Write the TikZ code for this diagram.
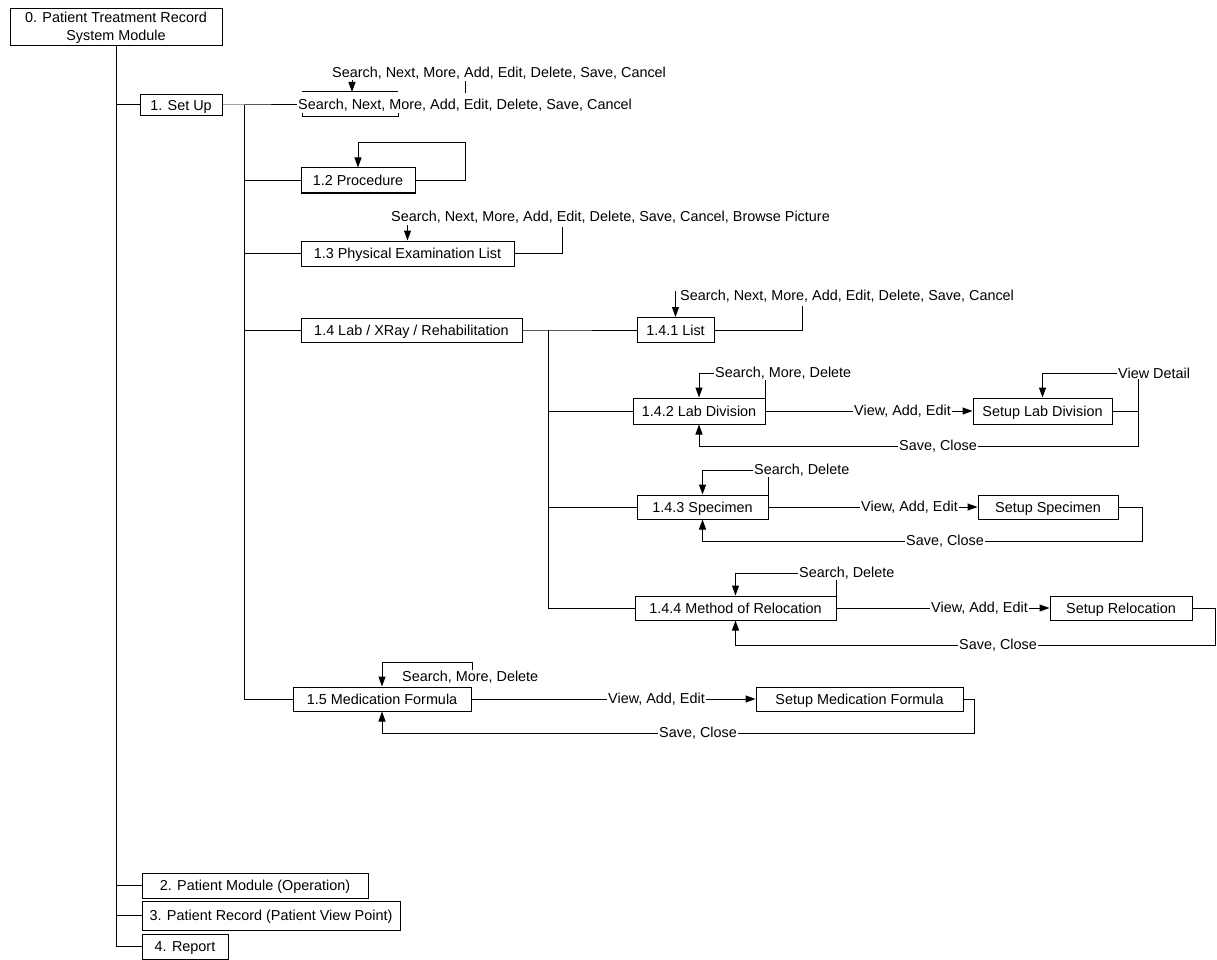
\documentclass[tikz,border=0pt]{standalone}
\usepackage{fontspec}
\setmainfont{Liberation Sans}
\usetikzlibrary{arrows.meta}
\tikzset{
  box/.style={draw,line width=1pt,inner sep=0pt,minimum height=24pt,
    font=\fontsize{14.4}{18}\selectfont},
  mod/.style={box,text height=10.3pt,text depth=0pt},
  lbl/.style={inner sep=1pt,anchor=west,font=\fontsize{14.4}{18}\selectfont},
  ln/.style={line width=1pt},
  arr/.style={ln,-{Triangle[length=10pt,width=7pt]}},
}
\begin{document}
\begin{tikzpicture}[x=1pt,y=-1pt]
  \useasboundingbox (0,0) rectangle (1217,960);
  % ---- modules ----
  \node[box,minimum width=212pt,minimum height=37pt,align=center] (sys) at (116,27.5)
    {0. Patient Treatment Record\\System Module};
  \node[mod,minimum width=82pt,minimum height=21pt] (setup) at (181,105) {1. Set Up};
  \node[mod,minimum width=114pt,minimum height=25pt] (proc) at (358,180.5) {1.2 Procedure};
  \node[mod,minimum width=213pt,minimum height=25pt] (phys) at (407.5,253.5) {1.3 Physical Examination List};
  \node[mod,minimum width=221pt] (lab) at (411.5,330) {1.4 Lab / XRay / Rehabilitation};
  \node[mod,minimum width=77pt,minimum height=25pt] (list) at (675.5,330) {1.4.1 List};
  \node[mod,minimum width=132pt,minimum height=26pt] (labdiv) at (699,411) {1.4.2 Lab Division};
  \node[mod,minimum width=139pt,minimum height=26pt] (setlab) at (1042.5,411) {Setup Lab Division};
  \node[mod,minimum width=131pt] (spec) at (702.5,507) {1.4.3 Specimen};
  \node[mod,minimum width=140pt] (setspec) at (1048,507) {Setup Specimen};
  \node[mod,minimum width=201pt] (reloc) at (735.5,608) {1.4.4 Method of Relocation};
  \node[mod,minimum width=142pt] (setrel) at (1121,608) {Setup Relocation};
  \node[mod,minimum width=178pt] (med) at (382,699) {1.5 Medication Formula};
  \node[mod,minimum width=207pt] (setmed) at (859.5,699) {Setup Medication Formula};
  \node[mod,minimum width=226pt,minimum height=25pt] (pmod) at (255,885.5) {2. Patient Module (Operation)};
  \node[mod,minimum width=258pt,minimum height=29pt] (prec) at (271,915.5) {3. Patient Record (Patient View Point)};
  \node[mod,minimum width=86pt,minimum height=25pt] (rep) at (185,946.5) {4. Report};
  % ---- button labels ----
  \node[lbl] (opsA) at (331,73) {Search, Next, More, Add, Edit, Delete, Save, Cancel};
  \node[lbl] (opsB) at (297,105) {Search, Next, More, Add, Edit, Delete, Save, Cancel};
  \node[lbl] (ops13) at (390,217) {Search, Next, More, Add, Edit, Delete, Save, Cancel, Browse Picture};
  \node[lbl] (ops141) at (679,296) {Search, Next, More, Add, Edit, Delete, Save, Cancel};
  \node[lbl] (ops142) at (714,373) {Search, More, Delete};
  \node[lbl] (vae142) at (853,411) {View, Add, Edit};
  \node[lbl] (vd142) at (1117,373) {View Detail};
  \node[lbl,anchor=center] (sc142) at (938,446) {Save, Close};
  \node[lbl] (ops143) at (753,470) {Search, Delete};
  \node[lbl] (vae143) at (860,507) {View, Add, Edit};
  \node[lbl,anchor=center] (sc143) at (945,541) {Save, Close};
  \node[lbl] (ops144) at (798,573) {Search, Delete};
  \node[lbl] (vae144) at (930,608) {View, Add, Edit};
  \node[lbl,anchor=center] (sc144) at (998,645) {Save, Close};
  \node[lbl] (ops15) at (401,677) {Search, More, Delete};
  \node[lbl] (vae15) at (607,699) {View, Add, Edit};
  \node[lbl,anchor=center] (sc15) at (698,733) {Save, Close};
  % ---- bends ----
  \coordinate (j1) at (244,105);
  \coordinate (j2) at (548,330);
  \coordinate (p12) at (465,143);
  \coordinate (a13) at (406,225);
  \coordinate (c13) at (562,227);
  \coordinate (a141) at (676,291);
  \coordinate (c141) at (802,306);
  \coordinate (r142) at (1138,446);
  \coordinate (r143) at (1142,541);
  \coordinate (r144) at (1215,645);
  \coordinate (r15) at (974,733);
  \coordinate (m15) at (472,662);
  \coordinate (ba) at (302,92);
  \coordinate (bb) at (398,92);
  \coordinate (bc) at (302,113);
  \coordinate (bd) at (398,113);
  \coordinate (ka) at (352,80);
  \coordinate (ta) at (465,81);
  % main trunk
  \draw[ln] (sys.south) |- (setup.west);
  \foreach \n in {pmod,prec,rep} \draw[ln] (sys.south) |- (\n.west);
  % 1. set up
  \draw[ln] (setup.east) -- (j1) -- (opsB.west);
  \foreach \n in {proc,phys,lab,med} \draw[ln] (j1) |- (\n.west);
  \draw[ln] (ba) -- (bb);
  \draw[arr] (ka) -- (ka |- ba);
  \draw[ln] (bc) -- ++(0,4) -| (bd);
  \draw[ln] (ta) -- ++(0,12);
  % 1.2 / 1.3
  \draw[arr] (proc.east) -| (p12) -| (proc.north);
  \draw[arr] (phys.north |- a13) -- (phys.north);
  \draw[ln] (phys.east) -| (c13);
  % 1.4
  \draw[ln] (lab.east) -- (j2) -- (list.west);
  \foreach \n in {labdiv,spec,reloc} \draw[ln] (j2) |- (\n.west);
  \draw[arr] (list.north |- a141) -- (list.north);
  \draw[ln] (list.east) -| (c141);
  % 1.4.2
  \draw[arr] (ops142.west) -| (labdiv.north);
  \draw[ln] (labdiv.north east) -- (labdiv.north east |- ops142.south);
  \draw[ln] (labdiv.east) -- (vae142.west);
  \draw[arr] (vae142.east) -- (setlab.west);
  \draw[arr] (vd142.west) -| (setlab.north);
  \draw[ln] (setlab.east) -- (setlab.east -| r142);
  \draw[ln] (r142 |- vd142.south) -- (r142) -- (sc142.east);
  \draw[arr] (sc142.west) -| (labdiv.south);
  % 1.4.3
  \draw[arr] (ops143.west) -| (spec.north);
  \draw[ln] (spec.north east) -- (spec.north east |- ops143.south);
  \draw[ln] (spec.east) -- (vae143.west);
  \draw[arr] (vae143.east) -- (setspec.west);
  \draw[ln] (setspec.east) -| (r143) -- (sc143.east);
  \draw[arr] (sc143.west) -| (spec.south);
  % 1.4.4
  \draw[arr] (ops144.west) -| (reloc.north);
  \draw[ln] (reloc.north east) -- (reloc.north east |- ops144.south);
  \draw[ln] (reloc.east) -- (vae144.west);
  \draw[arr] (vae144.east) -- (setrel.west);
  \draw[ln] (setrel.east) -| (r144) -- (sc144.east);
  \draw[arr] (sc144.west) -| (reloc.south);
  % 1.5
  \draw[arr] (m15 |- ops15.north) -- (m15) -| (med.north);
  \draw[ln] (med.east) -- (vae15.west);
  \draw[arr] (vae15.east) -- (setmed.west);
  \draw[ln] (setmed.east) -| (r15) -- (sc15.east);
  \draw[arr] (sc15.west) -| (med.south);
\end{tikzpicture}
\end{document}
